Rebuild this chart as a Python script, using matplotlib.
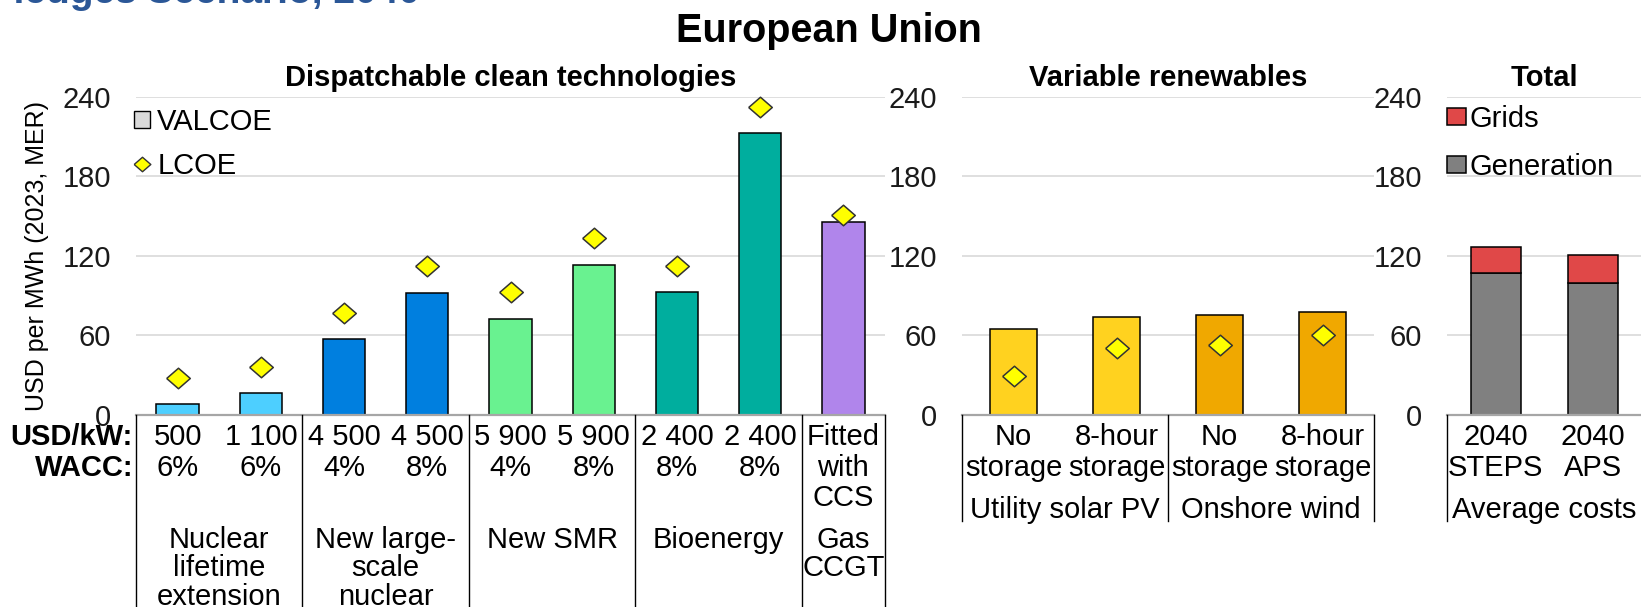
import matplotlib
matplotlib.use("Agg")
import matplotlib.pyplot as plt
from matplotlib.patches import Patch
from matplotlib.lines import Line2D
from matplotlib.transforms import blended_transform_factory

plt.rcParams["font.family"] = ["Liberation Sans", "DejaVu Sans"]

W, H = 1641, 607
FS = 21

# --- values, USD per MWh (2023, MER) ---
disp_top = ["500\n6%", "1 100\n6%", "4 500\n4%", "4 500\n8%", "5 900\n4%",
            "5 900\n8%", "2 400\n8%", "2 400\n8%", "Fitted\nwith\nCCS"]
disp_groups = ["Nuclear\nlifetime\nextension", "New large-\nscale\nnuclear",
               "New SMR", "Bioenergy", "Gas\nCCGT"]
disp_group_sizes = [2, 2, 2, 2, 1]
disp_valcoe = [8.3, 16.3, 57.0, 92.2, 72.6, 112.8, 92.4, 212.3, 145.4]
disp_lcoe = [28.1, 35.9, 76.6, 112.3, 92.4, 133.0, 112.3, 232.3, 150.5]
disp_colors = ["#4DCFFF"] * 2 + ["#007FDF"] * 2 + ["#69F290"] * 2 + ["#00AE9E"] * 2 + ["#B085EB"]

var_top = ["No\nstorage", "8-hour\nstorage", "No\nstorage", "8-hour\nstorage"]
var_groups = ["Utility solar PV", "Onshore wind"]
var_group_sizes = [2, 2]
var_valcoe = [64.8, 73.9, 75.1, 77.9]
var_lcoe = [29.4, 50.7, 52.8, 60.3]
var_colors = ["#FFD21F"] * 2 + ["#F0A800"] * 2

tot_top = ["2040\nSTEPS", "2040\nAPS"]
tot_groups = ["Average costs"]
tot_group_sizes = [2]
tot_generation = [107.3, 99.5]
tot_grids = [19.5, 21.1]

yticks = [0, 60, 120, 180, 240]

DIAMOND = [(-1, 0), (0, 0.87), (1, 0), (0, -0.87), (-1, 0)]
LCOE_FC, LCOE_EC = "#FFFF00", "#333333"
GRID_C = "#D9D9D9"


def fy(px):
    return 1 - px / H


fig = plt.figure(figsize=(W / 100, H / 100), dpi=100)

y0, y1 = fy(415), fy(96.5)
ax1 = fig.add_axes([136 / W, y0, (885 - 136) / W, y1 - y0])
ax2 = fig.add_axes([962 / W, y0, (1374 - 962) / W, y1 - y0])
ax3 = fig.add_axes([1447 / W, y0, (1642 - 1447) / W, y1 - y0])

for ax, n in [(ax1, 9), (ax2, 4), (ax3, 2)]:
    ax.set_xlim(-0.5, n - 0.5)
    ax.set_ylim(0, 240)
    ax.set_yticks(yticks)
    ax.set_xticks([])
    ax.tick_params(axis="y", length=0, pad=18, labelsize=FS, labelcolor="#1a1a1a")
    for s in ["left", "right", "top"]:
        ax.spines[s].set_visible(False)
    ax.spines["bottom"].set_color("#A6A6A6")
    ax.spines["bottom"].set_linewidth(1.6)
    ax.spines["bottom"].set_zorder(4)
    ax.grid(axis="y", color=GRID_C, lw=1.2)
    ax.set_axisbelow(True)

# bars + LCOE diamonds
x1 = range(len(disp_valcoe))
ax1.bar(x1, disp_valcoe, width=0.51, color=disp_colors, edgecolor="black", lw=1.1, zorder=3)
ax1.plot(x1, disp_lcoe, ls="none", marker=DIAMOND, ms=17, mfc=LCOE_FC, mec=LCOE_EC,
         mew=1.1, zorder=5, clip_on=False)

x2 = range(len(var_valcoe))
ax2.bar(x2, var_valcoe, width=0.45, color=var_colors, edgecolor="black", lw=1.1, zorder=3)
ax2.plot(x2, var_lcoe, ls="none", marker=DIAMOND, ms=17, mfc=LCOE_FC, mec=LCOE_EC,
         mew=1.1, zorder=5, clip_on=False)

x3 = range(len(tot_generation))
ax3.bar(x3, tot_generation, width=0.51, color="#808080", edgecolor="black", lw=1.1,
        zorder=3, label="Generation")
ax3.bar(x3, tot_grids, bottom=tot_generation, width=0.51, color="#E04848",
        edgecolor="black", lw=1.1, zorder=3, label="Grids")


def table(ax, top, top_y, groups, sizes, group_y, bottom_px):
    tr = blended_transform_factory(ax.transData, fig.transFigure)
    for i, lab in enumerate(top):
        for j, line in enumerate(lab.split("\n")):
            ax.text(i, fy(top_y[j]), line, transform=tr, ha="center", va="center",
                    fontsize=FS, color="black")
    start = 0
    edges = [-0.5]
    for g, n in zip(groups, sizes):
        c = start + (n - 1) / 2
        for j, line in enumerate(g.split("\n")):
            ax.text(c, fy(group_y[j]), line, transform=tr, ha="center", va="center",
                    fontsize=FS, color="black")
        start += n
        edges.append(start - 0.5)
    for e in edges:
        ax.plot([e, e], [fy(415), fy(bottom_px)], transform=tr, color="black",
                lw=1.0, clip_on=False, zorder=5)


table(ax1, disp_top, [437, 468, 498], disp_groups, disp_group_sizes, [540, 568, 597], 610)
table(ax2, var_top, [437, 468], var_groups, var_group_sizes, [510], 521)
table(ax3, tot_top, [437, 468], tot_groups, tot_group_sizes, [510], 521)

fig.text(133 / W, fy(437), "USD/kW:", ha="right", va="center", fontsize=FS, fontweight="bold")
fig.text(133 / W, fy(468), "WACC:", ha="right", va="center", fontsize=FS, fontweight="bold")

# titles
fig.text(829 / W, fy(31), "European Union", ha="center", va="center", fontsize=28.5,
         fontweight="bold")
for ax, t in [(ax1, "Dispatchable clean technologies"), (ax2, "Variable renewables"),
              (ax3, "Total")]:
    tr = blended_transform_factory(ax.transAxes, fig.transFigure)
    ax.text(0.5, fy(78), t, transform=tr, ha="center", va="center", fontsize=21,
            fontweight="bold")

fig.text(420 / W, fy(3), "Announced Pledges Scenario, 2040", ha="right", va="baseline",
         fontsize=28, fontweight="bold", color="#2B5797")

fig.text(37 / W, fy(256), "USD per MWh (2023, MER)", rotation=90, ha="center",
         va="center", fontsize=18)

# legends
h1 = [Patch(facecolor="#D9D9D9", edgecolor="black", lw=1.0),
      Line2D([], [], ls="none", marker=DIAMOND, ms=12, mfc=LCOE_FC, mec=LCOE_EC, mew=1.0)]
ax1.legend(h1, ["VALCOE", "LCOE"], loc="upper left", bbox_to_anchor=(134 / W, fy(108)),
           bbox_transform=fig.transFigure, frameon=False, fontsize=FS, handlelength=0.55,
           handleheight=0.55, handletextpad=0.25, labelspacing=0.55, borderpad=0,
           borderaxespad=0)

h3, l3 = ax3.get_legend_handles_labels()
ax3.legend(h3[::-1], l3[::-1], loc="upper left", bbox_to_anchor=(1447 / W, fy(105)),
           bbox_transform=fig.transFigure, frameon=False, fontsize=FS, handlelength=0.65,
           handleheight=0.55, handletextpad=0.12, labelspacing=0.68, borderpad=0,
           borderaxespad=0)

fig.savefig("out.png", dpi=100)
